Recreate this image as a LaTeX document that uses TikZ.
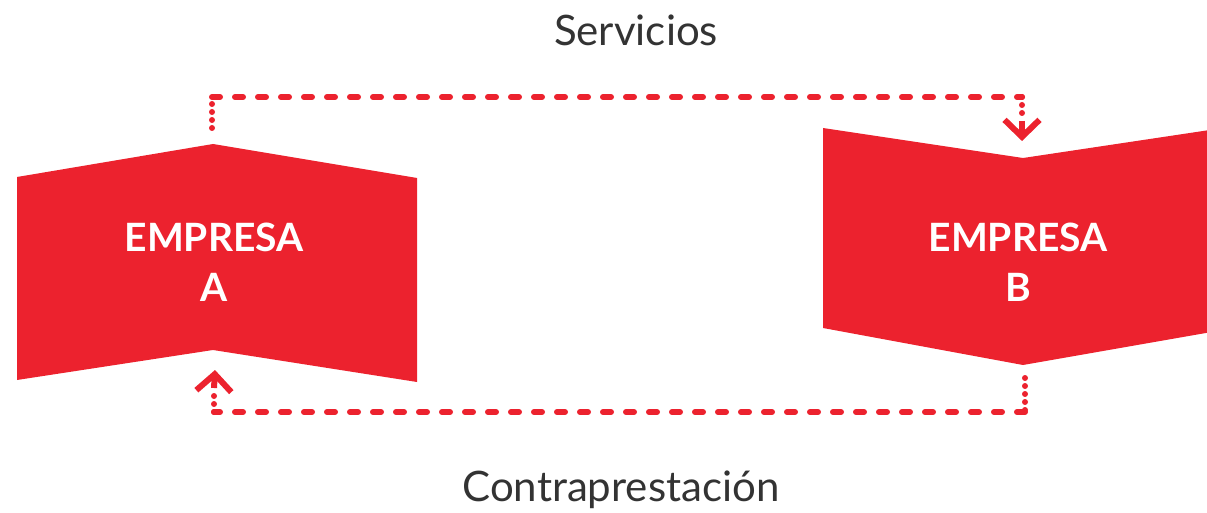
\documentclass[tikz,border=0pt]{standalone}
\usepackage{fontspec}
\setmainfont{Lato}
\usepackage{xcolor}
\usepackage{tikz}
\usetikzlibrary{calc}
\usetikzlibrary{arrows.meta}

\definecolor{rojo}{RGB}{236,34,46}
\definecolor{gris}{RGB}{51,51,51}

\begin{document}
\begin{tikzpicture}[x=1pt,y=-1pt,
		firm/.style={text=white,font=\fontsize{39}{50}\selectfont\bfseries,align=center},
		label/.style={text=gris,font=\fontsize{42}{50}\selectfont},
		flow/.style={rojo,line width=6pt,line cap=round,dash pattern=on 8pt off 15pt},
		dots/.style={rojo,line width=6pt,line cap=round,dash pattern=on 0pt off 8pt},
		tip/.style={-{Straight Barb[length=17pt,width=35pt,line width=6pt]}}]
		\clip (0,0) rectangle (1207,513);
		% empresas
		\fill [rojo] (17,177) -- (213,144) -- (417,178) -- (417,382) -- (213,350) -- (17,380) -- cycle;
		\fill [rojo] (823,128) -- (1023,158) -- (1223,128) -- (1223,330) -- (1023,365) -- (823,328) -- cycle;
		\node [firm] (a) at (214,262) {EMPRESA\\A};
		\node [firm] (b) at (1018,262) {EMPRESA\\B};
		\coordinate (aTop) at (212,128);
		\coordinate (aUp) at (212,97);
		\coordinate (bUp) at (1022,97);
		\coordinate (bTop) at (1022,141);
		\coordinate (bBot) at (1025,378);
		\coordinate (bDown) at (1025,412);
		\coordinate (aDown) at (214,412);
		\coordinate (aBot) at (215,370);
		% servicios
		\draw [dots] (aTop) -- (aUp);
		\draw [flow] (aUp) -- (bUp);
		\draw [dots] (bUp) -- ++(0,16);
		\draw [rojo,line width=6pt,tip] ($(bUp)+(0,24)$) -- (bTop);
		% contraprestacion
		\draw [dots] (bBot) -- (bDown);
		\draw [flow] (bDown) -- (aDown);
		\draw [dots] (aDown) -- ++(0,-16);
		\draw [rojo,line width=6pt,tip] ($(aDown)+(0,-24)$) -- (aBot);
		\node [label] (serv) at (636,30) {Servicios};
		\node [label] (contra) at (621,490) {Contraprestación};
	\end{tikzpicture}
\end{document}
